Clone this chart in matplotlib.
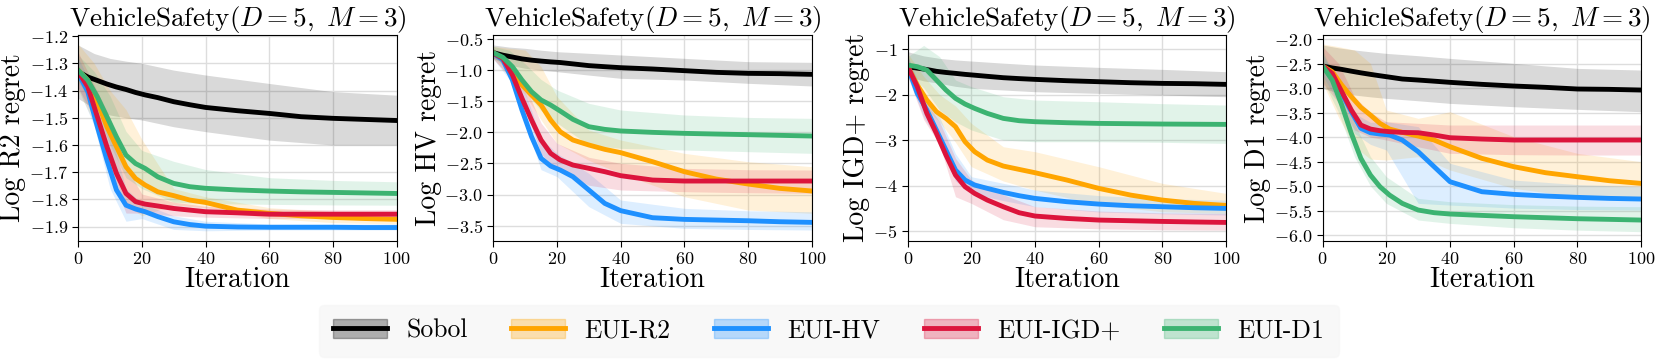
import matplotlib
matplotlib.use("Agg")
import matplotlib.pyplot as plt
from matplotlib.patches import Patch
from matplotlib.lines import Line2D

plt.rcParams["font.family"] = "serif"
plt.rcParams["font.serif"] = ["cmr10"]
plt.rcParams["mathtext.fontset"] = "cm"
plt.rcParams["axes.formatter.use_mathtext"] = True

# iterations where the mean curves were read, and coarser grid for the bands
iters = [0, 3, 6, 9, 12, 15, 18, 21, 25, 30, 35, 40, 50, 60, 70, 80, 90, 100]
band_iters = [0, 5, 10, 15, 20, 30, 40, 60, 80, 100]

methods = ["Sobol", "EUI-R2", "EUI-HV", "EUI-IGD+", "EUI-D1"]
colors = ["black", "#FFA500", "#1E90FF", "#DC143C", "#3CB371"]

# ---- Log R2 regret ----
r2_sobol = [-1.331, -1.35, -1.363, -1.376, -1.387, -1.396, -1.407, -1.416, -1.426, -1.441, -1.452, -1.462, -1.474, -1.484, -1.496, -1.502, -1.506, -1.510]
r2_sobol_hi = [-1.233, -1.264, -1.282, -1.292, -1.300, -1.325, -1.343, -1.374, -1.404, -1.417]
r2_sobol_lo = [-1.429, -1.466, -1.490, -1.500, -1.508, -1.533, -1.551, -1.582, -1.600, -1.600]
r2_r2 = [-1.325, -1.362, -1.441, -1.533, -1.606, -1.680, -1.723, -1.747, -1.772, -1.786, -1.802, -1.811, -1.839, -1.851, -1.860, -1.866, -1.870, -1.873]
r2_r2_hi = [-1.23, -1.30, -1.40, -1.47, -1.58, -1.76, -1.79, -1.83, -1.845, -1.85]
r2_r2_lo = [-1.40, -1.52, -1.68, -1.82, -1.86, -1.82, -1.83, -1.87, -1.885, -1.89]
r2_hv = [-1.337, -1.404, -1.533, -1.655, -1.765, -1.821, -1.835, -1.845, -1.863, -1.882, -1.892, -1.898, -1.901, -1.902, -1.902, -1.902, -1.903, -1.903]
r2_hv_hi = [-1.28, -1.40, -1.55, -1.76, -1.815, -1.86, -1.88, -1.89, -1.89, -1.89]
r2_hv_lo = [-1.39, -1.53, -1.76, -1.88, -1.87, -1.91, -1.915, -1.912, -1.912, -1.912]
r2_igd = [-1.331, -1.386, -1.496, -1.606, -1.704, -1.778, -1.808, -1.817, -1.824, -1.833, -1.839, -1.845, -1.849, -1.854, -1.854, -1.854, -1.854, -1.854]
r2_igd_hi = [-1.26, -1.38, -1.50, -1.68, -1.78, -1.81, -1.825, -1.835, -1.838, -1.838]
r2_igd_lo = [-1.39, -1.50, -1.70, -1.85, -1.85, -1.86, -1.865, -1.87, -1.87, -1.87]
r2_d1 = [-1.325, -1.362, -1.423, -1.496, -1.570, -1.637, -1.668, -1.686, -1.717, -1.741, -1.753, -1.759, -1.765, -1.769, -1.772, -1.774, -1.776, -1.778]
r2_d1_hi = [-1.27, -1.33, -1.42, -1.55, -1.62, -1.66, -1.69, -1.72, -1.73, -1.735]
r2_d1_lo = [-1.37, -1.45, -1.60, -1.72, -1.76, -1.81, -1.815, -1.818, -1.82, -1.821]

# ---- Log HV regret ----
hv_sobol = [-0.720, -0.76, -0.79, -0.82, -0.84, -0.855, -0.868, -0.878, -0.90, -0.928, -0.945, -0.961, -0.982, -1.009, -1.036, -1.052, -1.057, -1.068]
hv_sobol_hi = [-0.596, -0.63, -0.650, -0.68, -0.704, -0.73, -0.757, -0.811, -0.864, -0.875]
hv_sobol_lo = [-0.811, -0.92, -0.971, -1.00, -1.025, -1.08, -1.132, -1.159, -1.212, -1.255]
hv_r2 = [-0.720, -0.837, -1.025, -1.239, -1.400, -1.561, -1.802, -1.989, -2.123, -2.203, -2.273, -2.326, -2.471, -2.632, -2.750, -2.830, -2.900, -2.942]
hv_r2_hi = [-0.62, -0.65, -0.677, -0.945, -1.427, -1.962, -2.123, -2.337, -2.471, -2.551]
hv_r2_lo = [-0.82, -1.10, -1.40, -1.80, -2.177, -2.45, -2.659, -3.034, -3.248, -3.301]
hv_hv = [-0.730, -0.837, -1.159, -1.641, -2.069, -2.418, -2.541, -2.605, -2.712, -2.926, -3.141, -3.258, -3.371, -3.398, -3.409, -3.420, -3.436, -3.446]
hv_hv_hi = [-0.65, -0.85, -1.35, -2.10, -2.337, -2.659, -3.087, -3.221, -3.26, -3.275]
hv_hv_lo = [-0.82, -1.15, -1.85, -2.60, -2.712, -3.194, -3.462, -3.542, -3.56, -3.569]
hv_igd = [-0.730, -0.811, -1.078, -1.453, -1.802, -2.123, -2.337, -2.444, -2.525, -2.578, -2.632, -2.696, -2.766, -2.782, -2.782, -2.782, -2.782, -2.782]
hv_igd_hi = [-0.65, -0.85, -1.25, -1.85, -2.177, -2.40, -2.498, -2.578, -2.60, -2.605]
hv_igd_lo = [-0.82, -1.10, -1.60, -2.35, -2.605, -2.85, -2.926, -2.953, -2.97, -2.980]
hv_d1 = [-0.720, -0.795, -0.945, -1.159, -1.346, -1.480, -1.561, -1.657, -1.791, -1.909, -1.952, -1.978, -2.000, -2.016, -2.027, -2.037, -2.048, -2.059]
hv_d1_hi = [-0.62, -0.68, -0.90, -1.15, -1.320, -1.534, -1.641, -1.721, -1.76, -1.775]
hv_d1_lo = [-0.80, -1.00, -1.35, -1.65, -1.85, -2.203, -2.257, -2.284, -2.31, -2.337]

# ---- Log IGD+ regret ----
igd_sobol = [-1.388, -1.42, -1.45, -1.49, -1.515, -1.535, -1.557, -1.575, -1.60, -1.630, -1.65, -1.667, -1.696, -1.718, -1.740, -1.755, -1.762, -1.777]
igd_sobol_hi = [-1.059, -1.15, -1.205, -1.24, -1.264, -1.31, -1.352, -1.403, -1.447, -1.498]
igd_sobol_lo = [-1.608, -1.70, -1.755, -1.82, -1.864, -1.90, -1.938, -1.974, -2.011, -2.048]
igd_r2 = [-1.388, -1.791, -2.121, -2.377, -2.524, -2.707, -3.037, -3.256, -3.440, -3.571, -3.645, -3.718, -3.879, -4.062, -4.209, -4.319, -4.392, -4.436]
igd_r2_hi = [-1.10, -1.60, -2.00, -2.25, -2.634, -3.147, -3.256, -3.586, -3.952, -4.172]
igd_r2_lo = [-1.60, -2.25, -2.60, -3.05, -3.586, -3.90, -4.099, -4.428, -4.575, -4.612]
igd_hv = [-1.388, -1.974, -2.341, -2.780, -3.220, -3.659, -3.879, -3.989, -4.062, -4.150, -4.223, -4.282, -4.355, -4.407, -4.443, -4.465, -4.487, -4.502]
igd_hv_hi = [-1.15, -2.00, -2.50, -3.30, -3.806, -3.95, -4.099, -4.22, -4.29, -4.319]
igd_hv_lo = [-1.60, -2.50, -3.05, -3.90, -4.172, -4.33, -4.465, -4.58, -4.62, -4.648]
igd_igd = [-1.388, -1.828, -2.414, -2.853, -3.330, -3.769, -4.026, -4.172, -4.319, -4.465, -4.597, -4.670, -4.722, -4.758, -4.773, -4.788, -4.800, -4.810]
igd_igd_hi = [-1.15, -2.10, -2.60, -3.40, -3.879, -4.20, -4.465, -4.56, -4.60, -4.612]
igd_igd_lo = [-1.60, -2.55, -3.10, -4.245, -4.392, -4.75, -4.905, -4.95, -4.97, -4.978]
igd_d1 = [-1.352, -1.388, -1.462, -1.681, -1.901, -2.084, -2.209, -2.304, -2.414, -2.524, -2.575, -2.597, -2.619, -2.634, -2.641, -2.648, -2.652, -2.656]
igd_d1_hi = [-1.168, -0.92, -1.168, -1.681, -1.828, -2.048, -2.121, -2.158, -2.20, -2.231]
igd_d1_lo = [-1.535, -1.85, -2.341, -2.60, -2.780, -3.000, -3.037, -3.037, -3.05, -3.073]

# ---- Log D1 regret ----
d1_sobol = [-2.551, -2.59, -2.62, -2.656, -2.69, -2.721, -2.75, -2.778, -2.816, -2.837, -2.86, -2.884, -2.925, -2.959, -2.986, -3.020, -3.027, -3.041]
d1_sobol_hi = [-2.122, -2.18, -2.224, -2.26, -2.293, -2.34, -2.395, -2.497, -2.599, -2.633]
d1_sobol_lo = [-3.007, -3.10, -3.143, -3.18, -3.211, -3.26, -3.313, -3.381, -3.435, -3.483]
d1_r2 = [-2.551, -2.667, -2.939, -3.177, -3.395, -3.551, -3.721, -3.837, -3.905, -3.980, -4.061, -4.197, -4.435, -4.605, -4.728, -4.810, -4.891, -4.946]
d1_r2_hi = [-2.10, -2.156, -2.224, -2.497, -3.449, -3.619, -3.483, -3.993, -4.333, -4.503]
d1_r2_lo = [-2.90, -3.60, -4.197, -4.45, -4.469, -4.401, -4.673, -5.048, -5.218, -5.286]
d1_hv = [-2.551, -2.769, -3.109, -3.483, -3.823, -3.912, -3.939, -3.959, -4.061, -4.299, -4.605, -4.912, -5.116, -5.170, -5.204, -5.231, -5.252, -5.265]
d1_hv_hi = [-2.30, -2.90, -3.517, -3.70, -3.687, -3.789, -4.537, -4.878, -4.97, -5.014]
d1_hv_lo = [-2.75, -3.30, -3.925, -4.15, -4.265, -5.354, -5.388, -5.45, -5.48, -5.490]
d1_igd = [-2.551, -2.701, -3.075, -3.449, -3.755, -3.837, -3.871, -3.891, -3.905, -3.912, -3.959, -4.014, -4.041, -4.061, -4.061, -4.061, -4.061, -4.061]
d1_igd_hi = [-2.156, -2.50, -3.177, -3.50, -3.687, -3.72, -3.755, -3.755, -3.755, -3.755]
d1_igd_lo = [-2.90, -3.30, -3.857, -4.00, -4.061, -4.20, -4.333, -4.36, -4.367, -4.367]
d1_d1 = [-2.551, -2.837, -3.347, -3.925, -4.435, -4.776, -5.014, -5.184, -5.354, -5.490, -5.544, -5.571, -5.599, -5.626, -5.646, -5.667, -5.680, -5.694]
d1_d1_hi = [-2.224, -3.00, -3.721, -4.40, -4.810, -5.252, -5.320, -5.38, -5.41, -5.422]
d1_d1_lo = [-2.837, -3.50, -4.401, -5.00, -5.354, -5.694, -5.762, -5.85, -5.90, -5.932]

ylabels = ["Log R2 regret", "Log HV regret", "Log IGD+ regret", "Log D1 regret"]
ylims = [(-1.9515, -1.196), (-3.741, -0.436), (-5.212, -0.692), (-6.116, -1.918)]
yticks = [[-1.9, -1.8, -1.7, -1.6, -1.5, -1.4, -1.3, -1.2],
          [-3.5, -3.0, -2.5, -2.0, -1.5, -1.0, -0.5],
          [-5, -4, -3, -2, -1],
          [-6.0, -5.5, -5.0, -4.5, -4.0, -3.5, -3.0, -2.5, -2.0]]

panels = [
    [(r2_sobol, r2_sobol_lo, r2_sobol_hi), (r2_r2, r2_r2_lo, r2_r2_hi), (r2_hv, r2_hv_lo, r2_hv_hi),
     (r2_igd, r2_igd_lo, r2_igd_hi), (r2_d1, r2_d1_lo, r2_d1_hi)],
    [(hv_sobol, hv_sobol_lo, hv_sobol_hi), (hv_r2, hv_r2_lo, hv_r2_hi), (hv_hv, hv_hv_lo, hv_hv_hi),
     (hv_igd, hv_igd_lo, hv_igd_hi), (hv_d1, hv_d1_lo, hv_d1_hi)],
    [(igd_sobol, igd_sobol_lo, igd_sobol_hi), (igd_r2, igd_r2_lo, igd_r2_hi), (igd_hv, igd_hv_lo, igd_hv_hi),
     (igd_igd, igd_igd_lo, igd_igd_hi), (igd_d1, igd_d1_lo, igd_d1_hi)],
    [(d1_sobol, d1_sobol_lo, d1_sobol_hi), (d1_r2, d1_r2_lo, d1_r2_hi), (d1_hv, d1_hv_lo, d1_hv_hi),
     (d1_igd, d1_igd_lo, d1_igd_hi), (d1_d1, d1_d1_lo, d1_d1_hi)],
]

lefts = [0.0471, 0.2970, 0.5465, 0.7963]
fig = plt.figure(figsize=(16.61, 3.62), dpi=100)

for i, curves in enumerate(panels):
    ax = fig.add_axes([lefts[i], 0.335, 0.1917, 0.5683])
    for (mean, lo, hi), c in zip(curves, colors):
        ax.fill_between(band_iters, lo, hi, color=c, alpha=0.15, linewidth=0)
    for (mean, lo, hi), c in zip(curves, colors):
        ax.plot(iters, mean, color=c, lw=3.5)
    ax.set_xlim(0, 100)
    ax.set_ylim(*ylims[i])
    ax.set_xticks([0, 20, 40, 60, 80, 100])
    ax.set_yticks(yticks[i])
    ax.grid(True, color="#dddddd", lw=1)
    ax.set_axisbelow(True)
    ax.tick_params(labelsize=13, length=4)
    ax.set_title(r"VehicleSafety$(D=5,\ M=3)$", fontsize=19.5, pad=3)
    ax.set_xlabel("Iteration", fontsize=20, labelpad=0)
    ax.set_ylabel(ylabels[i], fontsize=20, labelpad=2)

handles = [(Patch(facecolor=c, alpha=0.3, edgecolor=c), Line2D([], [], color=c, lw=3.5)) for c in colors]
leg = fig.legend(handles, methods, loc="center", bbox_to_anchor=(0.499, 0.087), ncol=5,
                 fontsize=18.5, handlelength=2.1, handleheight=0.75, handletextpad=0.75,
                 columnspacing=1.7, frameon=True, fancybox=True, borderpad=0.55)
leg.get_frame().set_facecolor("#f7f7f7")
leg.get_frame().set_edgecolor("#f7f7f7")

fig.savefig("out.png", dpi=100)
